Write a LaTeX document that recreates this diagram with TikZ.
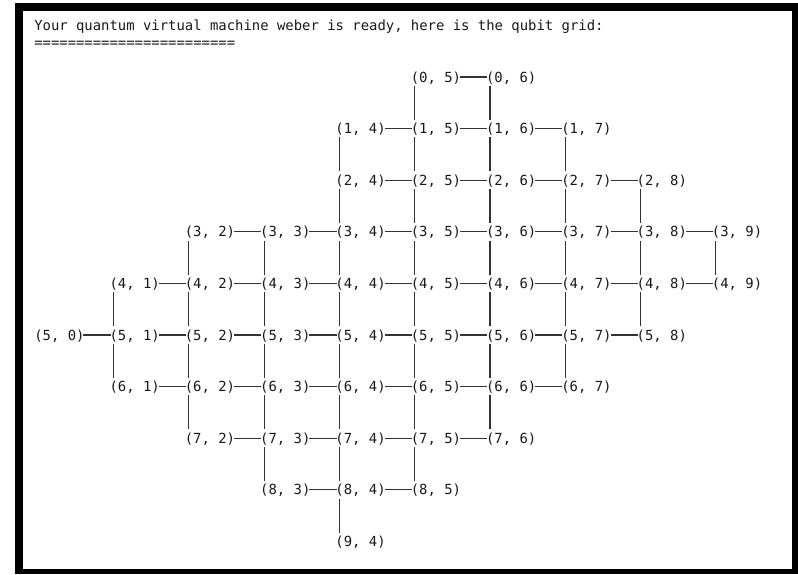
\documentclass[tikz,border=0pt]{standalone}
\usepackage{fontspec}
\usepackage{tikz}
\newfontfamily\termfont{DejaVu Sans Mono}
\tikzset{
    qubit/.style={
        anchor=west, inner sep=0pt, text height=10.25pt, text depth=2.65pt,
        font=\termfont\fontsize{10.43pt}{13pt}\selectfont, text=black!90
    },
    hlink/.style={
        draw=black!80, line width=0.8pt, shorten <=-1pt, shorten >=-1pt
    },
    vlink/.style={
        draw=black!80, line width=0.8pt
    }
}

\begin{document}
\begin{tikzpicture}[x=0.75pt, y=-0.75pt]
    \useasboundingbox (0,0) rectangle (798,574);

    % Terminal window frame
    \fill[black] (15,3) rectangle (798,574);
    \fill[white] (23,11) rectangle (792,569);

    % Header lines
    \node[qubit] (title) at (34,25.4) {Your quantum virtual machine weber is ready, here is the qubit grid:};
    \node[qubit] (rule) at (34,42.6) {========================};

    % Qubits, row by row (row/first column/last column)
    \foreach \r/\a/\b in {0/5/6, 1/4/7, 2/4/8, 3/2/9, 4/1/9, 5/0/8, 6/1/7, 7/2/6, 8/3/5, 9/4/4} {
        \foreach \c in {\a,...,\b} {
            \node[qubit] (q\r\c) at ({34+75.3*\c}, {77+51.6*\r}) {(\r, \c)};
        }
    }

    % Couplings along a row
    \foreach \r/\a/\b in {0/5/6, 1/4/7, 2/4/8, 3/2/9, 4/1/9, 5/0/8, 6/1/7, 7/2/6, 8/3/5} {
        \foreach \c in {\a,...,\b} {
            \ifnum\c<\b
                \pgfmathtruncatemacro\n{\c+1}
                \draw[hlink] (q\r\c.east) -- (q\r\n.west);
            \fi
        }
    }

    % Couplings between rows
    \foreach \r/\a/\b in {0/5/6, 1/4/7, 2/4/8, 3/2/9, 4/1/8, 5/1/7, 6/2/6, 7/3/5, 8/4/4} {
        \pgfmathtruncatemacro\s{\r+1}
        \foreach \c in {\a,...,\b} {
            \draw[vlink] ([xshift=3.14pt]q\r\c.south west) -- ([xshift=3.14pt]q\s\c.north west);
        }
    }
\end{tikzpicture}
\end{document}
